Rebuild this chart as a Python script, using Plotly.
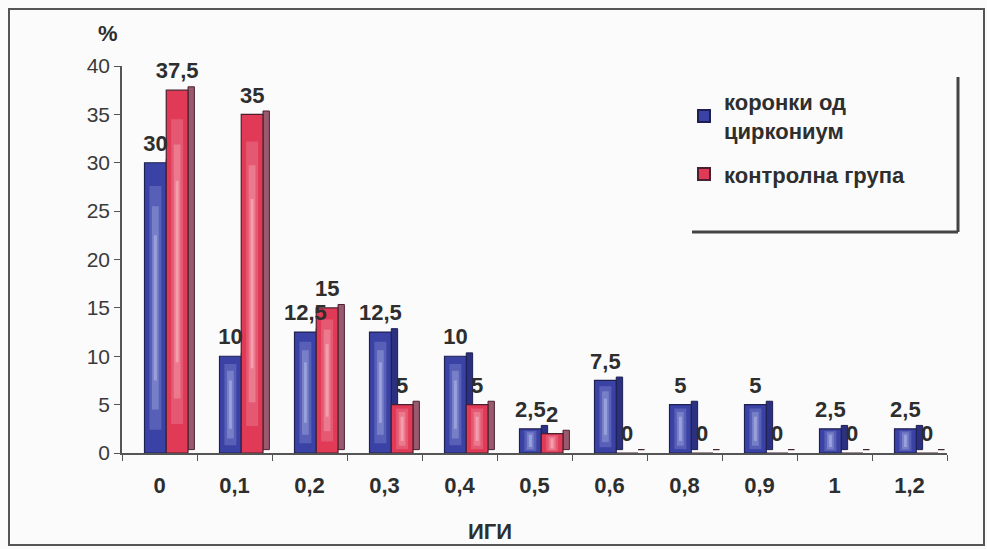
import plotly.graph_objects as go

categories = ["0", "0,1", "0,2", "0,3", "0,4", "0,5", "0,6", "0,8", "0,9", "1", "1,2"]
zirconium = [30, 10, 12.5, 12.5, 10, 2.5, 7.5, 5, 5, 2.5, 2.5]
control = [37.5, 35, 15, 5, 5, 2, 0, 0, 0, 0, 0]
series_names = ["коронки од<br>циркониум", "контролна група"]
y_ticks = [0, 5, 10, 15, 20, 25, 30, 35, 40]

FONT = "Liberation Sans, Arial, sans-serif"
TXT = "#2e2e2e"

def fmt(v):
    return f"{v:g}".replace(".", ",")

# bar geometry (in category units)
BW = 0.29       # front face width
DEPTH = 0.085   # side face width (fake 3D)
LIFT = 0.35     # vertical lift of the side face
OFF_BLUE = -0.20
OFF_RED = OFF_BLUE + BW

fig = go.Figure()

def add_series(vals, name, front, side, edge, glow_rgb, off, group):
    # side face (fake 3D depth)
    fig.add_trace(go.Bar(
        x=categories, y=vals, base=LIFT, width=DEPTH, offset=off + BW,
        marker=dict(color=side, line=dict(color=edge, width=1)),
        showlegend=False, hoverinfo="skip",
    ))
    # front face
    fig.add_trace(go.Bar(
        x=categories, y=vals, name=name, width=BW, offset=off,
        marker=dict(color=front, line=dict(color=edge, width=1.2)),
        legendgroup=group,
    ))
    # soft light glow in the middle of the front face
    for w, a, lo, hi in ((0.16, 0.18, 0.08, 0.92), (0.09, 0.25, 0.15, 0.85), (0.04, 0.35, 0.25, 0.75)):
        fig.add_trace(go.Bar(
            x=categories, y=[v * (hi - lo) for v in vals], base=[v * lo for v in vals],
            width=w, offset=off + (BW - w) / 2,
            marker=dict(color=f"rgba({glow_rgb},{a})", line=dict(width=0)),
            showlegend=False, hoverinfo="skip",
        ))

add_series(zirconium, series_names[0], "#3b42a6", "#2c3080", "#1e2050",
           "215,225,255", OFF_BLUE, "g1")
add_series(control, series_names[1], "#e03a57", "#9a5a6e", "#4a2030",
           "255,225,232", OFF_RED, "g2")

# value labels on top of everything
for vals, off in ((zirconium, OFF_BLUE), (control, OFF_RED)):
    fig.add_trace(go.Bar(
        x=categories, y=vals, base=0.4, width=BW, offset=off,
        marker=dict(color="rgba(0,0,0,0)", line=dict(width=0)),
        text=[fmt(v) for v in vals], textposition="outside", cliponaxis=False,
        constraintext="none",
        textfont=dict(family=FONT, size=22, color=TXT, weight="bold"),
        showlegend=False, hoverinfo="skip",
    ))

L, R, T, B = 122, 40, 66, 96
W, H = 987, 549
pw, ph = W - L - R, H - T - B

def px(x):
    return (x - L) / pw

def py(y):
    return (H - B - y) / ph

shapes = [
    # outer frame
    dict(type="rect", xref="paper", yref="paper", x0=px(9), x1=px(984), y0=py(545), y1=py(9),
         line=dict(color="#555555", width=2), layer="below"),
    # legend box shadow lines (right and bottom)
    dict(type="line", xref="paper", yref="paper", x0=px(958), x1=px(958), y0=py(232), y1=py(77),
         line=dict(color="#444444", width=3)),
    dict(type="line", xref="paper", yref="paper", x0=px(692), x1=px(958), y0=py(232), y1=py(232),
         line=dict(color="#444444", width=3)),
]

fig.update_layout(
    width=W, height=H,
    margin=dict(l=L, r=R, t=T, b=B),
    paper_bgcolor="#fbfbfb", plot_bgcolor="#fbfbfb",
    barmode="overlay",
    font=dict(family=FONT, color=TXT),
    showlegend=True,
    legend=dict(x=px(684), y=py(81), xanchor="left", yanchor="top",
                bgcolor="rgba(0,0,0,0)", borderwidth=0,
                font=dict(family=FONT, size=22, color=TXT, weight="bold"),
                itemsizing="constant", tracegroupgap=12),
    shapes=shapes,
    annotations=[
        dict(text="%", xref="paper", yref="paper", x=px(108), y=py(33),
             xanchor="center", yanchor="middle",
             showarrow=False, font=dict(family=FONT, size=22, color=TXT, weight="bold")),
        dict(text="ИГИ", xref="paper", yref="paper", x=px(490), y=py(531),
             xanchor="center", yanchor="middle",
             showarrow=False, font=dict(family=FONT, size=22, color=TXT, weight="bold")),
    ],
    xaxis=dict(
        type="category", showline=True, linecolor="#555555", linewidth=1.5,
        ticks="outside", tickson="boundaries", ticklen=6, tickcolor="#555555",
        tickfont=dict(family=FONT, size=22, color=TXT, weight="bold"),
        ticklabelstandoff=12,
        showgrid=False,
    ),
    yaxis=dict(
        range=[0, 40], tickvals=y_ticks, showline=True, linecolor="#555555", linewidth=1.5,
        ticks="outside", ticklen=6, tickcolor="#555555",
        tickfont=dict(family=FONT, size=21, color="#3a3a3a"),
        showgrid=False, zeroline=False,
    ),
)

fig.write_html("out.html")
